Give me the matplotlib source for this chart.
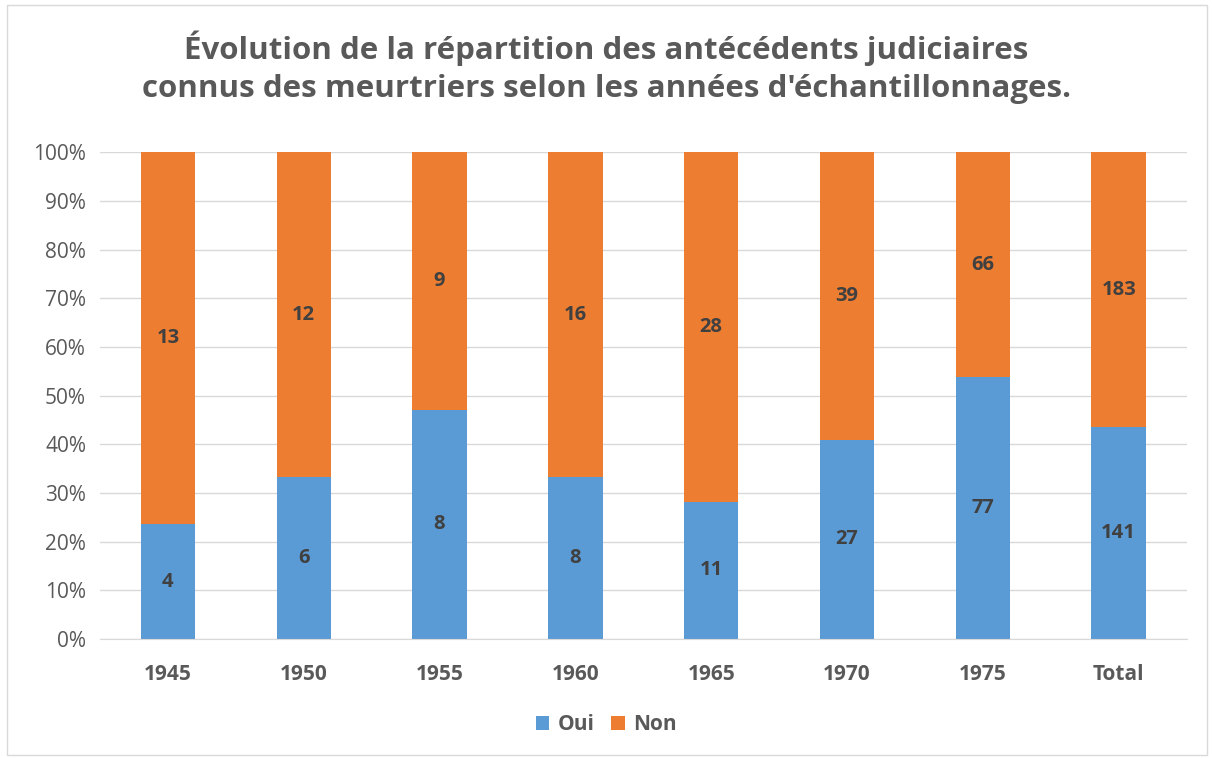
import numpy as np
import matplotlib.pyplot as plt

plt.rcParams['font.family'] = ['Open Sans', 'DejaVu Sans']

categories = ['1945', '1950', '1955', '1960', '1965', '1970', '1975', 'Total']
oui = [4, 6, 8, 8, 11, 27, 77, 141]
non = [13, 12, 9, 16, 28, 39, 66, 183]

oui_a = np.array(oui, dtype=float)
non_a = np.array(non, dtype=float)
tot = oui_a + non_a
oui_p = oui_a / tot * 100
non_p = non_a / tot * 100

blue = '#5B9BD5'
orange = '#ED7D31'
gray = '#595959'

fig = plt.figure(figsize=(12.12, 7.58), dpi=100)
ax = fig.add_axes([0.0825, 0.157, 0.8965, 0.642])

x = np.arange(len(categories))
ax.bar(x, oui_p, width=0.4, color=blue, label='Oui', zorder=2)
ax.bar(x, non_p, width=0.4, bottom=oui_p, color=orange, label='Non', zorder=2)

for i in range(len(x)):
    ax.text(x[i], oui_p[i] / 2, str(oui[i]), ha='center', va='center',
            fontsize=14.5, fontweight='bold', color='#404040')
    ax.text(x[i], oui_p[i] + non_p[i] / 2, str(non[i]), ha='center', va='center',
            fontsize=14.5, fontweight='bold', color='#404040')

ax.set_xlim(-0.5, len(x) - 0.5)
ax.set_ylim(0, 100)
ax.set_yticks(np.arange(0, 101, 10))
ax.set_yticklabels([f'{v}%' for v in range(0, 101, 10)], fontsize=15, color=gray)
ax.set_xticks(x)
ax.set_xticklabels(categories, fontsize=15, fontweight='bold', color=gray)
ax.tick_params(length=0, pad=10)
ax.tick_params(axis='x', pad=18)
ax.grid(axis='y', color='#D9D9D9', linewidth=1, zorder=0)
for s in ['top', 'right', 'left']:
    ax.spines[s].set_visible(False)
ax.spines['bottom'].set_color('#D9D9D9')

fig.suptitle("Évolution de la répartition des antécédents judiciaires\n"
             "connus des meurtriers selon les années d'échantillonnages.",
             y=0.96, fontsize=22.5, fontweight='bold', color=gray, linespacing=1.35)

fig.legend(loc='center', bbox_to_anchor=(0.5, 0.044), ncol=2, frameon=False,
           prop={'weight': 'bold', 'size': 15}, handlelength=0.65,
           handleheight=0.65, columnspacing=0.8, handletextpad=0.4, labelcolor=gray)

fig.patches.append(plt.Rectangle((0.006, 0.004), 0.99, 0.99, transform=fig.transFigure,
                                 fill=False, edgecolor='#D9D9D9', linewidth=1))

fig.savefig('out.png', dpi=100)
